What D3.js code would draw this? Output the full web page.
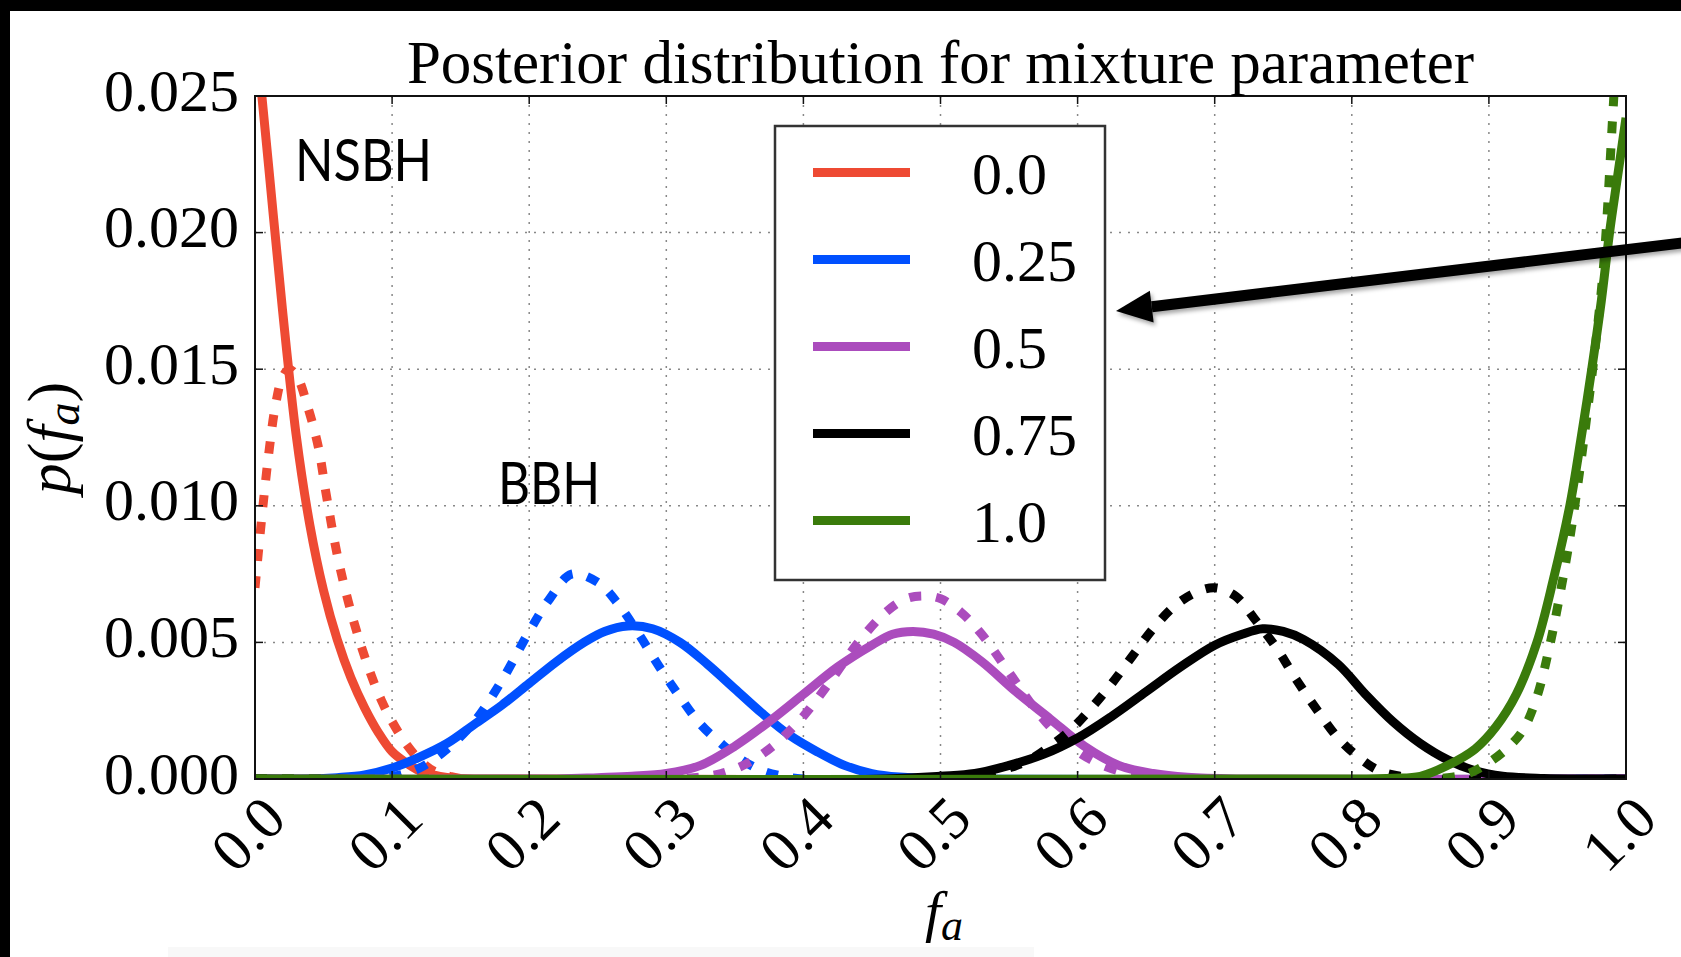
<!DOCTYPE html>
<html>
<head>
<meta charset="utf-8">
<script src="https://cdn.jsdelivr.net/npm/d3@7"></script>
<style>
  html, body { margin: 0; background: #fff; }
  svg { display: block; }
</style>
</head>
<body>
<svg id="chart" width="1681" height="957"></svg>
<script>
// [f_a, p(f_a)], solid and dotted curve per mixture value
const redSolid = [[0,0.0276],[0.01,0.0224],[0.02,0.0172],[0.03,0.0126],[0.04,0.0093],[0.05,0.0069],[0.06,0.0051],[0.07,0.0037],[0.08,0.0026],[0.09,0.0017],[0.10,0.0010],[0.11,0.0006],[0.12,0.0003],[0.13,0.00015],[0.14,0.00006],[0.16,0],[1,0]];
const redDotted = [[0,0.0070],[0.005,0.0096],[0.010,0.0119],[0.015,0.0137],[0.020,0.0147],[0.025,0.0150],[0.031,0.0147],[0.038,0.0137],[0.046,0.0122],[0.052,0.0104],[0.060,0.0082],[0.068,0.0065],[0.076,0.0051],[0.084,0.0039],[0.092,0.0029],[0.100,0.0021],[0.110,0.0013],[0.120,0.0007],[0.130,0.0003],[0.142,0.0001],[0.155,0],[1,0]];
const blueSolid = [[0,0],[0.04,0],[0.06,0.00005],[0.08,0.00015],[0.10,0.0004],[0.12,0.0008],[0.14,0.0013],[0.16,0.0020],[0.18,0.0027],[0.20,0.0035],[0.22,0.0043],[0.24,0.0050],[0.255,0.0054],[0.272,0.0056],[0.29,0.0055],[0.31,0.0050],[0.33,0.0042],[0.35,0.0033],[0.37,0.0024],[0.39,0.0016],[0.41,0.0010],[0.43,0.0005],[0.45,0.0002],[0.47,0.00007],[0.50,0],[1,0]];
const blueDotted = [[0,0],[0.08,0],[0.10,0.00008],[0.12,0.0004],[0.14,0.0011],[0.16,0.0021],[0.18,0.0036],[0.20,0.0054],[0.215,0.0066],[0.231,0.0075],[0.25,0.0072],[0.265,0.0064],[0.28,0.0053],[0.295,0.0041],[0.31,0.0030],[0.325,0.0020],[0.34,0.0013],[0.355,0.0007],[0.37,0.0003],[0.385,0.0001],[0.40,0],[1,0]];
const purpleSolid = [[0,0],[0.22,0],[0.25,0.00005],[0.275,0.0001],[0.30,0.0002],[0.325,0.0005],[0.35,0.0012],[0.375,0.0021],[0.40,0.0031],[0.425,0.0041],[0.45,0.0049],[0.465,0.0053],[0.48,0.0054],[0.495,0.0053],[0.51,0.0050],[0.53,0.0043],[0.555,0.0032],[0.58,0.0022],[0.605,0.0012],[0.63,0.0005],[0.655,0.0002],[0.68,0.00006],[0.72,0],[1,0]];
const purpleDotted = [[0,0],[0.30,0],[0.32,0.00005],[0.34,0.0002],[0.36,0.0006],[0.38,0.0013],[0.40,0.0023],[0.42,0.0036],[0.44,0.0050],[0.46,0.0061],[0.475,0.0066],[0.488,0.0067],[0.50,0.0066],[0.515,0.0061],[0.53,0.0053],[0.55,0.0039],[0.57,0.0025],[0.59,0.0014],[0.61,0.0007],[0.63,0.0003],[0.65,0.0001],[0.67,0],[1,0]];
const blackSolid = [[0,0],[0.46,0],[0.50,0.0001],[0.525,0.0002],[0.55,0.0005],[0.575,0.0009],[0.60,0.0015],[0.625,0.0023],[0.65,0.0032],[0.675,0.0041],[0.70,0.0049],[0.72,0.0053],[0.735,0.0055],[0.75,0.0054],[0.765,0.0051],[0.79,0.0042],[0.81,0.0031],[0.83,0.0021],[0.85,0.0013],[0.87,0.0007],[0.89,0.0003],[0.91,0.0001],[0.94,0.00002],[0.97,0],[1,0]];
const blackDotted = [[0,0],[0.50,0],[0.53,0.0001],[0.55,0.0004],[0.565,0.0007],[0.58,0.0012],[0.595,0.0018],[0.61,0.0026],[0.625,0.0035],[0.64,0.0045],[0.655,0.0055],[0.67,0.0063],[0.685,0.0068],[0.70,0.0070],[0.715,0.0067],[0.73,0.0058],[0.745,0.0048],[0.76,0.0036],[0.775,0.0025],[0.79,0.0015],[0.805,0.0008],[0.82,0.0003],[0.835,0.0001],[0.85,0],[1,0]];
const greenSolid = [[0,0],[0.80,0],[0.83,0.00003],[0.85,0.0001],[0.87,0.0005],[0.89,0.0011],[0.905,0.0019],[0.92,0.0031],[0.935,0.0050],[0.947,0.0073],[0.959,0.0100],[0.967,0.0124],[0.975,0.0150],[0.982,0.0175],[0.988,0.0200],[0.994,0.0221],[1.0,0.0242]];
const greenDotted = [[0,0],[0.85,0],[0.87,0.00005],[0.885,0.0002],[0.90,0.0006],[0.915,0.0012],[0.925,0.0018],[0.935,0.0030],[0.944,0.0048],[0.952,0.0068],[0.959,0.0088],[0.966,0.0112],[0.972,0.0135],[0.978,0.0160],[0.984,0.0190],[0.990,0.0240],[0.995,0.0285],[1.0,0.033]];

const mixLabels = ["0.0", "0.25", "0.5", "0.75", "1.0"];
const mixColors = ["#ee4a33", "#0050ff", "#ab4cbd", "#000000", "#3a7b0b"];
const xTicks = [0.0, 0.1, 0.2, 0.3, 0.4, 0.5, 0.6, 0.7, 0.8, 0.9, 1.0];
const yTicks = [0.000, 0.005, 0.010, 0.015, 0.020, 0.025];

const series = [
  { solid: redSolid, dotted: redDotted },
  { solid: blueSolid, dotted: blueDotted },
  { solid: purpleSolid, dotted: purpleDotted },
  { solid: blackSolid, dotted: blackDotted },
  { solid: greenSolid, dotted: greenDotted },
].map((d, i) => ({ ...d, label: mixLabels[i], color: mixColors[i] }));

const serif = "'Liberation Serif', 'Times New Roman', serif";

function drawPosterior(svgRef) {
  const svg = d3.select(svgRef);
  svg.selectAll("*").remove();

  const plot = { left: 255, right: 1626, top: 96, bottom: 779 };

  const xScale = d3.scaleLinear().domain([0, 1]).range([plot.left, plot.right]);
  const yScale = d3.scaleLinear().domain([0, 0.025]).range([plot.bottom, plot.top]);

  // screenshot frame: black band top and left, faint strip at the bottom
  svg.append("rect").attr("x", 0).attr("y", 0).attr("width", 1681).attr("height", 957).attr("fill", "#fff");
  svg.append("rect").attr("x", 0).attr("y", 0).attr("width", 1681).attr("height", 11).attr("fill", "#000");
  svg.append("rect").attr("x", 0).attr("y", 0).attr("width", 10).attr("height", 957).attr("fill", "#000");
  svg.append("rect").attr("x", 168).attr("y", 947).attr("width", 866).attr("height", 10).attr("fill", "#f8f8f8");

  const defs = svg.append("defs");
  defs.append("clipPath").attr("id", "plotClip")
    .append("rect")
    .attr("x", plot.left).attr("y", plot.top)
    .attr("width", plot.right - plot.left).attr("height", plot.bottom - plot.top);
  defs.append("filter").attr("id", "shadow")
    .attr("x", "-5%").attr("y", "-50%").attr("width", "110%").attr("height", "200%")
    .append("feDropShadow")
    .attr("dx", 2).attr("dy", 3).attr("stdDeviation", 2)
    .attr("flood-color", "#000").attr("flood-opacity", 0.35);

  // grid
  const gridG = svg.append("g").attr("class", "grid")
    .attr("stroke", "#888").attr("stroke-width", 1.5).attr("stroke-dasharray", "2,7");
  gridG.selectAll("line.gx")
    .data(xTicks.slice(1, -1))
    .enter().append("line").attr("class", "gx")
    .attr("x1", (d) => xScale(d)).attr("x2", (d) => xScale(d))
    .attr("y1", plot.top).attr("y2", plot.bottom);
  gridG.selectAll("line.gy")
    .data(yTicks.slice(1, -1))
    .enter().append("line").attr("class", "gy")
    .attr("y1", (d) => yScale(d)).attr("y2", (d) => yScale(d))
    .attr("x1", plot.left).attr("x2", plot.right);

  // curves
  const line = d3.line()
    .x((d) => xScale(d[0]))
    .y((d) => yScale(d[1]))
    .curve(d3.curveCatmullRom.alpha(0.5));

  const curvesG = svg.append("g").attr("clip-path", "url(#plotClip)");
  series.forEach((s) => {
    curvesG.append("path")
      .attr("d", line(s.dotted))
      .attr("fill", "none")
      .attr("stroke", s.color)
      .attr("stroke-width", 9)
      .attr("stroke-dasharray", "12,15");
    curvesG.append("path")
      .attr("d", line(s.solid))
      .attr("fill", "none")
      .attr("stroke", s.color)
      .attr("stroke-width", 9)
      .attr("stroke-linejoin", "round");
  });

  // frame and inward ticks on all sides
  svg.append("rect")
    .attr("x", plot.left).attr("y", plot.top)
    .attr("width", plot.right - plot.left).attr("height", plot.bottom - plot.top)
    .attr("fill", "none").attr("stroke", "#111").attr("stroke-width", 2);

  const tickLen = 8;
  const ticksG = svg.append("g").attr("stroke", "#111").attr("stroke-width", 1.5);
  xTicks.forEach((t) => {
    ticksG.append("line").attr("x1", xScale(t)).attr("x2", xScale(t))
      .attr("y1", plot.bottom).attr("y2", plot.bottom - tickLen);
    ticksG.append("line").attr("x1", xScale(t)).attr("x2", xScale(t))
      .attr("y1", plot.top).attr("y2", plot.top + tickLen);
  });
  yTicks.forEach((t) => {
    ticksG.append("line").attr("y1", yScale(t)).attr("y2", yScale(t))
      .attr("x1", plot.left).attr("x2", plot.left + tickLen);
    ticksG.append("line").attr("y1", yScale(t)).attr("y2", yScale(t))
      .attr("x1", plot.right).attr("x2", plot.right - tickLen);
  });

  // tick labels
  svg.append("g")
    .selectAll("text")
    .data(yTicks)
    .enter().append("text")
    .attr("x", plot.left - 16)
    .attr("y", (d) => yScale(d) + 14.5)
    .attr("text-anchor", "end")
    .style("font-family", serif)
    .style("font-size", "60px")
    .text((d) => d3.format(".3f")(d));

  svg.append("g")
    .selectAll("text")
    .data(xTicks)
    .enter().append("text")
    .attr("transform", (d) => `translate(${xScale(d) - 7} 834) rotate(-45)`)
    .attr("text-anchor", "middle")
    .attr("dominant-baseline", "central")
    .style("font-family", serif)
    .style("font-size", "60px")
    .text((d) => d3.format(".1f")(d));

  // title
  svg.append("text")
    .attr("x", (plot.left + plot.right) / 2)
    .attr("y", 83)
    .attr("text-anchor", "middle")
    .style("font-family", serif)
    .style("font-size", "61px")
    .text("Posterior distribution for mixture parameter");

  // axis labels
  const xLabel = svg.append("text")
    .attr("x", 944).attr("y", 931)
    .attr("text-anchor", "middle")
    .style("font-family", serif)
    .style("font-size", "58px");
  xLabel.append("tspan").style("font-style", "italic").text("f");
  xLabel.append("tspan").style("font-style", "italic").style("font-size", "44px")
    .attr("dy", 9).text("a");

  const yLabel = svg.append("text")
    .attr("transform", "translate(70 438) rotate(-90)")
    .attr("text-anchor", "middle")
    .style("font-family", serif)
    .style("font-size", "62px");
  yLabel.append("tspan").style("font-style", "italic").text("p");
  yLabel.append("tspan").text("(");
  yLabel.append("tspan").style("font-style", "italic").text("f");
  yLabel.append("tspan").style("font-style", "italic").style("font-size", "46px")
    .attr("dy", 9).text("a");
  yLabel.append("tspan").attr("dy", -9).text(")");

  // legend
  const legend = { x: 775, y: 126, w: 330, h: 454, first: 172.5, step: 87 };
  const legendG = svg.append("g").attr("class", "legend");
  legendG.append("rect")
    .attr("x", legend.x).attr("y", legend.y)
    .attr("width", legend.w).attr("height", legend.h)
    .attr("fill", "#fff").attr("stroke", "#333").attr("stroke-width", 2.5);
  const items = legendG.selectAll("g.item")
    .data(series)
    .enter().append("g").attr("class", "item")
    .attr("transform", (d, i) => `translate(0 ${legend.first + i * legend.step})`);
  items.append("line")
    .attr("x1", 813).attr("x2", 910)
    .attr("y1", 0).attr("y2", 0)
    .attr("stroke", (d) => d.color)
    .attr("stroke-width", 9);
  items.append("text")
    .attr("x", 972).attr("y", 21)
    .style("font-family", serif)
    .style("font-size", "60px")
    .text((d) => d.label);

  // annotations
  const sans = "Lato, 'Open Sans', sans-serif";
  svg.append("text")
    .attr("x", 295).attr("y", 181)
    .attr("textLength", 137).attr("lengthAdjust", "spacingAndGlyphs")
    .style("font-family", sans).style("font-size", "58px")
    .text("NSBH");
  svg.append("text")
    .attr("x", 498).attr("y", 504)
    .attr("textLength", 102).attr("lengthAdjust", "spacingAndGlyphs")
    .style("font-family", sans).style("font-size", "58px")
    .text("BBH");

  // arrow pointing at the legend
  const start = [1690, 242];
  const tip = [1116, 311];
  const ang = Math.atan2(tip[1] - start[1], tip[0] - start[0]);
  const headLen = 36, headHalf = 16;
  const base = [tip[0] - headLen * Math.cos(ang), tip[1] - headLen * Math.sin(ang)];
  const nx = -Math.sin(ang), ny = Math.cos(ang);
  const arrowG = svg.append("g").attr("filter", "url(#shadow)");
  arrowG.append("line")
    .attr("x1", start[0]).attr("y1", start[1])
    .attr("x2", base[0]).attr("y2", base[1])
    .attr("stroke", "#000").attr("stroke-width", 11);
  arrowG.append("polygon")
    .attr("points", [
      tip,
      [base[0] + nx * headHalf, base[1] + ny * headHalf],
      [base[0] - nx * headHalf, base[1] - ny * headHalf],
    ].map((p) => p.join(",")).join(" "))
    .attr("fill", "#000");
}

drawPosterior(document.getElementById("chart"));
</script>
</body>
</html>
